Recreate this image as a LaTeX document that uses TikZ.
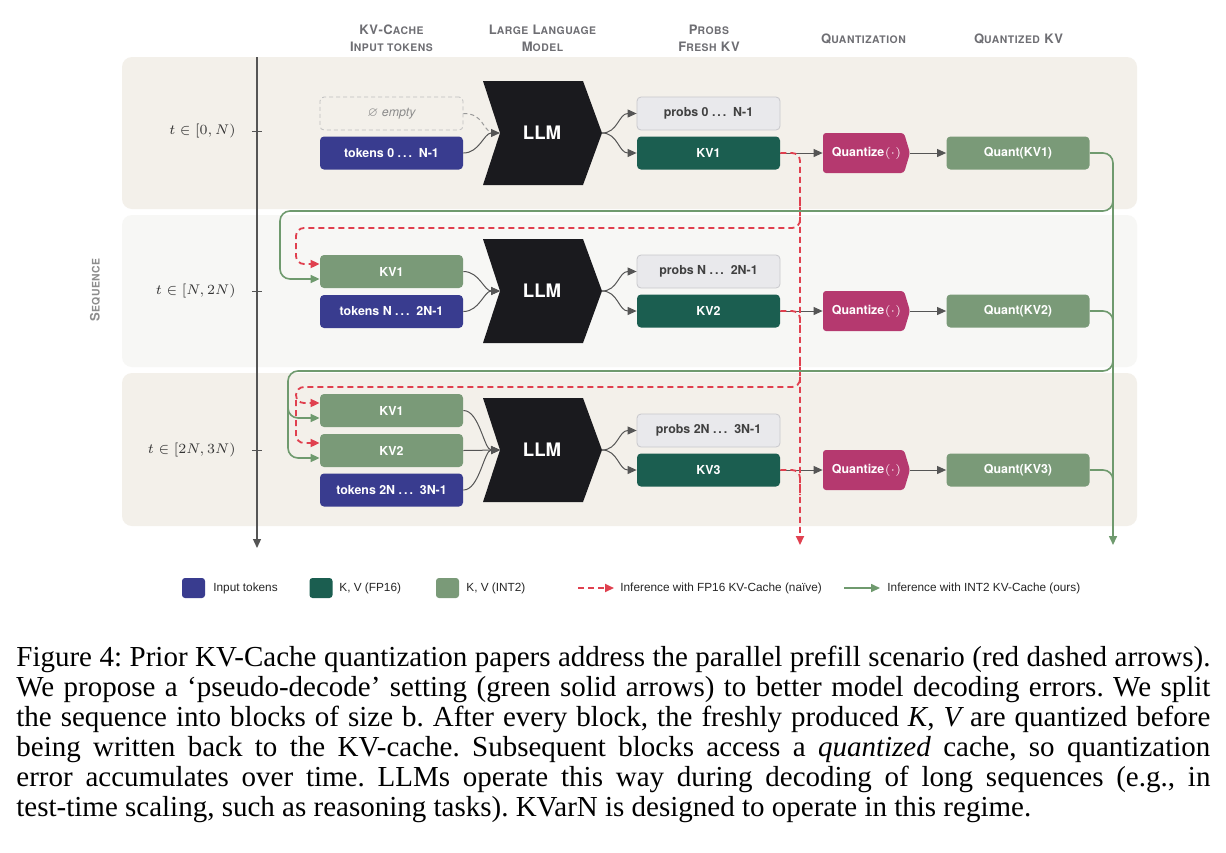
\documentclass[tikz,border=0pt]{standalone}
\usepackage{fontspec}
\usepackage{amssymb}
\setmainfont{TeX Gyre Heros}
\newfontfamily\capfont{Liberation Serif}
\newfontfamily\hdrfont[LetterSpace=5]{TeX Gyre Heros}
\newfontfamily\legfont{Liberation Sans}
\usetikzlibrary{arrows.meta}
\definecolor{beige}{HTML}{F3F0EA}
\definecolor{lightband}{HTML}{F7F7F5}
\definecolor{tokblue}{HTML}{393C8F}
\definecolor{kvdark}{HTML}{1B5E50}
\definecolor{sage}{HTML}{7A9A78}
\definecolor{probfill}{HTML}{E9E9EC}
\definecolor{probdraw}{HTML}{C8C8CC}
\definecolor{quantmag}{HTML}{B5396F}
\definecolor{llmblack}{HTML}{1A1A1E}
\definecolor{arrgray}{HTML}{555555}
\definecolor{redd}{HTML}{E0404F}
\definecolor{greenl}{HTML}{6F9A6E}
\definecolor{hdrgray}{HTML}{6E6E73}
\newcommand\hs[1]{{\fontsize{5.2}{6}\selectfont #1}}
\frenchspacing
\tikzset{
  box/.style={rounded corners=2pt, minimum width=71.5pt, minimum height=16.5pt, inner sep=0pt,
    font=\fontsize{6.2}{7}\selectfont\bfseries, text=white},
  tokbox/.style={box, fill=tokblue},
  kvbox/.style={box, fill=kvdark},
  sagebox/.style={box, fill=sage},
  probbox/.style={box, fill=probfill, draw=probdraw, line width=0.4pt, text=black!75},
  emptybox/.style={box, draw=black!25, dash pattern=on 2pt off 1.5pt, line width=0.4pt,
    text=black!45, font=\fontsize{6.2}{7}\selectfont\itshape},
  qtext/.style={minimum width=43.5pt, minimum height=20pt, inner sep=0pt, text=white,
    font=\fontsize{6.2}{7}\selectfont\bfseries},
  llmtxt/.style={text=white, font=\fontsize{9.3}{10}\selectfont\bfseries, inner sep=0pt},
  tri/.style={-{Triangle[length=4.5pt,width=4pt]}},
  garr/.style={draw=arrgray, line width=0.5pt, tri},
  redarr/.style={draw=redd, line width=0.9pt, dash pattern=on 3pt off 2pt, rounded corners=4pt},
  grnarr/.style={draw=greenl, line width=0.8pt, rounded corners=5pt},
  hdr/.style={text=hdrgray, inner sep=0pt, font=\hdrfont\bfseries\fontsize{6.5}{7}\selectfont},
  tlab/.style={anchor=east, inner sep=0pt, text=black!80, font=\fontsize{7.2}{8}\selectfont},
  legsq/.style={rounded corners=1.5pt, minimum width=11.5pt, minimum height=10pt, inner sep=0pt},
  legtext/.style={anchor=west, inner sep=0pt, text=black!85, font=\legfont\fontsize{5.9}{7}\selectfont},
  capline/.style={anchor=base west, inner sep=0pt, font=\capfont\fontsize{14.5}{15}\selectfont}
}
\begin{document}
\begin{tikzpicture}[x=0.5pt,y=-0.5pt]
\useasboundingbox (0,0) rectangle (1226,852);
\fill[white] (0,0) rectangle (1226,852);
% bands
\fill[beige, rounded corners=5pt] (122,57) rectangle (1137,209);
\fill[lightband, rounded corners=5pt] (122,215) rectangle (1137,367);
\fill[beige, rounded corners=5pt] (122,373) rectangle (1137,526);
% headers
\node[hdr] (h1a) at (391.5,30) {KV-C\hs{ACHE}};
\node[hdr] (h1b) at (391.5,47) {I\hs{NPUT TOKENS}};
\node[hdr] (h2a) at (542.5,30) {L\hs{ARGE} L\hs{ANGUAGE}};
\node[hdr] (h2b) at (542.5,47) {M\hs{ODEL}};
\node[hdr] (h3a) at (709,30) {P\hs{ROBS}};
\node[hdr] (h3b) at (709,47) {F\hs{RESH} KV};
\node[hdr] (h4) at (863.5,39) {Q\hs{UANTIZATION}};
\node[hdr] (h5) at (1018.5,39) {Q\hs{UANTIZED} KV};
\node[hdr, text=black!45, rotate=90] (seq) at (95,290) {S\hs{EQUENCE}};
% axis
\coordinate (ax0) at (257,57);
\coordinate (ax1) at (257,548);
\draw[arrgray, line width=0.6pt, tri] (ax0) -- (ax1);
\foreach \yy in {131,291,450}{\draw[arrgray, line width=0.5pt] (252,\yy) -- (262,\yy);}
\node[tlab] (tl1) at (236,131) {$t\in[0,N)$};
\node[tlab] (tl2) at (236,291) {$t\in[N,2N)$};
\node[tlab] (tl3) at (236,450) {$t\in[2N,3N)$};
% per-row LLM, outputs, quantize
\foreach \r/\c/\pt in {1/133/{0 .\kern1pt.\kern1pt.\ \ N-1},2/291/{N .\kern1pt.\kern1pt.\ \ 2N-1},3/450/{2N .\kern1pt.\kern1pt.\ \ 3N-1}}{
  \fill[llmblack] (483,{\c-52}) -- (583,{\c-52}) -- (602,\c) -- (583,{\c+52}) -- (483,{\c+52}) -- (500,\c) -- cycle;
  \node[llmtxt] (L\r) at (542,\c) {LLM};
  \coordinate (Lin\r) at (500,\c);
  \coordinate (Lout\r) at (602,\c);
  \node[probbox] (p\r) at (708.5,{\c-19.5}) {probs \pt};
  \node[kvbox] (k\r) at (708.5,{\c+20}) {KV\r};
  \fill[quantmag, rounded corners=1.5pt] (823,{\c}) -- (823,{\c+40}) -- (904,{\c+40}) -- (910,{\c+20}) -- (904,{\c}) -- cycle;
  \node[qtext] (qz\r) at (866.5,{\c+20}) {Quantize\hspace{0.3pt}{\mdseries$(\cdot)$}};
  \node[sagebox] (qkv\r) at (1018,{\c+20}) {Quant(KV\r)};
  \draw[garr] (Lout\r) .. controls +(16,0) and +(-18,0) .. (p\r.west);
  \draw[garr] (Lout\r) .. controls +(16,0) and +(-18,0) .. (k\r.west);
  \draw[garr] (k\r.east) -- (qz\r.west);
  \draw[garr] (qz\r.east) -- (qkv\r.west);
}
% inputs row 1
\node[emptybox] (e1) at (391.5,113.5) {$\varnothing$ empty};
\node[tokbox] (t1) at (391.5,153) {tokens 0 .\kern1pt.\kern1pt.\ \ N-1};
\coordinate (L1e) at (492,133);
\draw[arrgray!60, line width=0.5pt, dash pattern=on 2pt off 1.5pt] (e1.east) .. controls +(20,0) and +(-10,-4) .. (L1e);
\draw[garr] (t1.east) .. controls +(16,0) and +(-16,0) .. (Lin1);
% inputs row 2
\node[sagebox] (a21) at (391.5,271.5) {KV1};
\node[tokbox] (t2) at (391.5,311.5) {tokens N .\kern1pt.\kern1pt.\ \ 2N-1};
\draw[garr] (a21.east) .. controls +(16,0) and +(-16,0) .. (Lin2);
\draw[garr] (t2.east) .. controls +(16,0) and +(-16,0) .. (Lin2);
% inputs row 3
\node[sagebox] (a31) at (391.5,410.5) {KV1};
\node[sagebox] (a32) at (391.5,450.5) {KV2};
\node[tokbox] (t3) at (391.5,490) {tokens 2N .\kern1pt.\kern1pt.\ \ 3N-1};
\draw[garr] (a31.east) .. controls +(16,0) and +(-16,0) .. (Lin3);
\draw[garr] (a32.east) -- (Lin3);
\draw[garr] (t3.east) .. controls +(16,0) and +(-16,0) .. (Lin3);
% red dashed (FP16)
\coordinate (rEnd) at (800,545);
\draw[redarr, tri] (k1.east) -| (rEnd);
\draw[redarr] (k2.east) -| (800,335);
\draw[redarr] (k3.east) -| (800,495);
\draw[redarr, tri] (800,200) |- (296,228) |- ([yshift=3.75pt]a21.west);
\draw[redarr, tri] (800,360) |- (296,387) |- ([yshift=3.75pt]a31.west);
\draw[redarr, tri] (296,400) |- ([yshift=3.75pt]a32.west);
% green solid (INT2)
\coordinate (gEnd) at (1113,545);
\draw[grnarr, tri] (qkv1.east) -| (gEnd);
\draw[grnarr] (qkv2.east) -| (1113,340);
\draw[grnarr] (qkv3.east) -| (1113,500);
\draw[grnarr, tri] (1113,190) |- (280,211) |- ([yshift=-3.75pt]a21.west);
\draw[grnarr, tri] (1113,350) |- (288,371) |- ([yshift=-3.75pt]a31.west);
\draw[grnarr, tri] (288,400) |- ([yshift=-3.75pt]a32.west);
% legend
\node[legsq, fill=tokblue] (lg1) at (193.5,588) {};
\node[legtext] (lt1) at (213,588) {Input tokens};
\node[legsq, fill=kvdark] (lg2) at (321,588) {};
\node[legtext] (lt2) at (339,588) {K, V (FP16)};
\node[legsq, fill=sage] (lg3) at (447.5,588) {};
\node[legtext] (lt3) at (466,588) {K, V (INT2)};
\coordinate (lr1) at (578,588); \coordinate (lr2) at (614,588);
\draw[redarr, tri] (lr1) -- (lr2);
\node[legtext] (lt4) at (620,588) {Inference with FP16 KV-Cache (naïve)};
\coordinate (lgr1) at (844,588); \coordinate (lgr2) at (880,588);
\draw[grnarr, tri] (lgr1) -- (lgr2);
\node[legtext] (lt5) at (887,588) {Inference with INT2 KV-Cache (ours)};
% caption
\node[capline] (c1) at (16,666) {\makebox[597pt][s]{Figure 4: Prior KV-Cache quantization papers address the parallel prefill scenario (red dashed arrows).}};
\node[capline] (c2) at (16,696) {\makebox[597pt][s]{We propose a ‘pseudo-decode’ setting (green solid arrows) to better model decoding errors. We split}};
\node[capline] (c3) at (16,726) {\makebox[597pt][s]{the sequence into blocks of size b. After every block, the freshly produced {\itshape K}, {\itshape V} are quantized before}};
\node[capline] (c4) at (16,756) {\makebox[597pt][s]{being written back to the KV-cache. Subsequent blocks access a {\itshape quantized} cache, so quantization}};
\node[capline] (c5) at (16,786) {\makebox[597pt][s]{error accumulates over time. LLMs operate this way during decoding of long sequences (e.g., in}};
\node[capline] (c6) at (16,816) {test-time scaling, such as reasoning tasks). KVarN is designed to operate in this regime.};
\end{tikzpicture}
\end{document}
